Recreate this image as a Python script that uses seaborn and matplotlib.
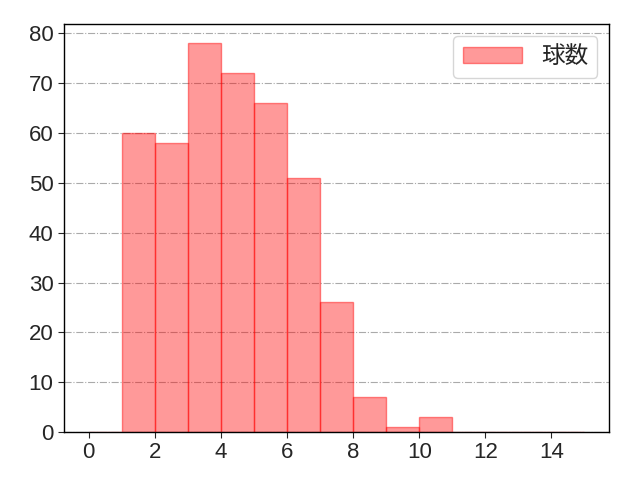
import matplotlib
matplotlib.use("Agg")
import matplotlib.pyplot as plt
import seaborn as sns
import numpy as np
import pandas as pd

# pitches per plate appearance: bin left edges and counts
bin_edges = list(range(0, 16))
bin_left = [0, 1, 2, 3, 4, 5, 6, 7, 8, 9, 10, 11, 12, 13, 14]
counts = [0, 60, 58, 78, 72, 66, 51, 26, 7, 1, 3, 0, 0, 0, 0]

df = pd.DataFrame({"球数": [b + 0.5 for b in bin_left], "n": counts})

sns.set_style("white")
plt.rcParams['font.family'] = ['Liberation Sans', 'Noto Sans CJK JP', 'DejaVu Sans']

fig, ax = plt.subplots(figsize=(6.4, 4.8), dpi=100)
sns.histplot(data=df, x="球数", weights="n", bins=bin_edges, ax=ax,
             color="#ff0000", alpha=0.4, edgecolor=(1, 0, 0, 0.45), linewidth=1,
             label="球数")
ax.set_xlabel("")
ax.set_ylabel("")
ax.set_xticks([0, 2, 4, 6, 8, 10, 12, 14])
ax.tick_params(labelsize=16, length=4, direction="out", left=True, bottom=True)
ax.yaxis.grid(True, linestyle="-.", color="#aaaaaa", linewidth=0.8)
ax.set_axisbelow(True)
for s in ax.spines.values():
    s.set_color("black")
    s.set_linewidth(1)
ax.legend(loc="upper right", handlelength=2.5, borderpad=0.4,
          prop={'family': ['Noto Sans CJK JP'], 'size': 17})
fig.subplots_adjust(left=0.1, right=0.952, top=0.95, bottom=0.1)
fig.savefig("out.png", dpi=100)
